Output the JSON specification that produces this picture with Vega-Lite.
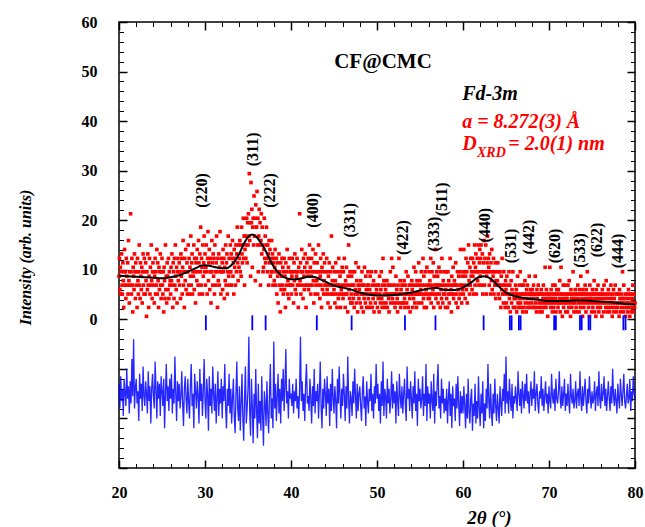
{
"$schema":"https://vega.github.io/schema/vega-lite/v6.json",
"width":516,"height":446,
"autosize":{"type":"none"},
"padding":{"left":119,"top":22,"right":10,"bottom":59},
"background":"white",
"config":{
"view":{"stroke":"black","strokeWidth":1.5},
"axis":{"grid":false,"domain":false,"tickColor":"black","labelFont":"Liberation Serif","labelFontWeight":"bold","labelFontSize":16,"labelColor":"black","titleFont":"Liberation Serif","titleFontWeight":"bold","titleFontStyle":"italic","titleColor":"black","labelFlush":false,"labelOverlap":false}
},
"resolve":{"axis":{"x":"independent","y":"independent"}},
"datasets":{
"obs":[
{"x":20,"y":8.7},{"x":20.05,"y":12.3},{"x":20.1,"y":6},{"x":20.15,"y":10.5},{"x":20.2,"y":5.1},{"x":20.25,"y":9.6},{"x":20.3,"y":13.2},{"x":20.35,"y":6.9},{"x":20.4,"y":5.1},{"x":20.45,"y":11.4},{"x":20.5,"y":7.8},{"x":20.55,"y":2.4},{"x":20.6,"y":9.6},{"x":20.65,"y":14.1},{"x":20.7,"y":6.9},{"x":20.75,"y":9.6},{"x":20.8,"y":4.2},{"x":20.85,"y":12.3},{"x":20.9,"y":8.7},{"x":20.95,"y":6.9},
{"x":21,"y":11.4},{"x":21.05,"y":5.1},{"x":21.1,"y":15.9},{"x":21.15,"y":7.8},{"x":21.2,"y":3.3},{"x":21.25,"y":9.6},{"x":21.3,"y":6.9},{"x":21.35,"y":21.3},{"x":21.4,"y":9.6},{"x":21.45,"y":5.1},{"x":21.5,"y":12.3},{"x":21.55,"y":6.9},{"x":21.6,"y":1.5},{"x":21.65,"y":10.5},{"x":21.7,"y":8.7},{"x":21.75,"y":6},{"x":21.8,"y":13.2},{"x":21.85,"y":9.6},{"x":21.9,"y":4.2},{"x":21.95,"y":11.4},
{"x":22,"y":6.9},{"x":22.05,"y":9.6},{"x":22.1,"y":2.4},{"x":22.15,"y":12.3},{"x":22.2,"y":7.8},{"x":22.25,"y":5.1},{"x":22.3,"y":9.6},{"x":22.35,"y":15},{"x":22.4,"y":6.9},{"x":22.45,"y":4.2},{"x":22.5,"y":11.4},{"x":22.55,"y":8.7},{"x":22.6,"y":6},{"x":22.65,"y":10.5},{"x":22.7,"y":3.3},{"x":22.75,"y":9.6},{"x":22.8,"y":13.2},{"x":22.85,"y":6.9},{"x":22.9,"y":5.1},{"x":22.95,"y":12.3},
{"x":23,"y":9.6},{"x":23.05,"y":5.1},{"x":23.1,"y":11.4},{"x":23.15,"y":7.8},{"x":23.2,"y":0.6},{"x":23.25,"y":9.6},{"x":23.3,"y":6},{"x":23.35,"y":13.2},{"x":23.4,"y":6.9},{"x":23.45,"y":2.4},{"x":23.5,"y":8.7},{"x":23.55,"y":12.3},{"x":23.6,"y":5.1},{"x":23.65,"y":10.5},{"x":23.7,"y":6.9},{"x":23.75,"y":15},{"x":23.8,"y":7.8},{"x":23.85,"y":4.2},{"x":23.9,"y":9.6},{"x":23.95,"y":11.4},
{"x":24,"y":6.9},{"x":24.05,"y":9.6},{"x":24.1,"y":3.3},{"x":24.15,"y":8.7},{"x":24.2,"y":12.3},{"x":24.25,"y":5.1},{"x":24.3,"y":9.6},{"x":24.35,"y":6.9},{"x":24.4,"y":14.1},{"x":24.45,"y":5.1},{"x":24.5,"y":11.4},{"x":24.55,"y":7.8},{"x":24.6,"y":2.4},{"x":24.65,"y":10.5},{"x":24.7,"y":6},{"x":24.75,"y":9.6},{"x":24.8,"y":13.2},{"x":24.85,"y":6.9},{"x":24.9,"y":4.2},{"x":24.95,"y":9.6},
{"x":25,"y":12.3},{"x":25.05,"y":6.9},{"x":25.1,"y":5.1},{"x":25.15,"y":9.6},{"x":25.2,"y":1.5},{"x":25.25,"y":10.5},{"x":25.3,"y":7.8},{"x":25.35,"y":4.2},{"x":25.4,"y":15},{"x":25.45,"y":6},{"x":25.5,"y":8.7},{"x":25.55,"y":3.3},{"x":25.6,"y":11.4},{"x":25.65,"y":8.7},{"x":25.7,"y":6},{"x":25.75,"y":12.3},{"x":25.8,"y":4.2},{"x":25.85,"y":9.6},{"x":25.9,"y":6.9},{"x":25.95,"y":7.8},
{"x":26,"y":5.1},{"x":26.05,"y":10.5},{"x":26.1,"y":7.8},{"x":26.15,"y":13.2},{"x":26.2,"y":6.9},{"x":26.25,"y":2.4},{"x":26.3,"y":11.4},{"x":26.35,"y":9.6},{"x":26.4,"y":4.2},{"x":26.45,"y":12.3},{"x":26.5,"y":6.9},{"x":26.55,"y":15},{"x":26.6,"y":8.7},{"x":26.65,"y":6},{"x":26.7,"y":10.5},{"x":26.75,"y":3.3},{"x":26.8,"y":9.6},{"x":26.85,"y":12.3},{"x":26.9,"y":7.8},{"x":26.95,"y":9.6},
{"x":27,"y":11.4},{"x":27.05,"y":6.9},{"x":27.1,"y":9.6},{"x":27.15,"y":4.2},{"x":27.2,"y":13.2},{"x":27.25,"y":8.7},{"x":27.3,"y":12.3},{"x":27.35,"y":5.1},{"x":27.4,"y":10.5},{"x":27.45,"y":15.9},{"x":27.5,"y":6.9},{"x":27.55,"y":9.6},{"x":27.6,"y":2.4},{"x":27.65,"y":12.3},{"x":27.7,"y":7.8},{"x":27.75,"y":14.1},{"x":27.8,"y":6},{"x":27.85,"y":9.6},{"x":27.9,"y":11.4},{"x":27.95,"y":5.1},
{"x":28,"y":9.6},{"x":28.05,"y":15},{"x":28.1,"y":6.9},{"x":28.15,"y":12.3},{"x":28.2,"y":5.1},{"x":28.25,"y":10.5},{"x":28.3,"y":8.7},{"x":28.35,"y":16.8},{"x":28.4,"y":6.9},{"x":28.45,"y":11.4},{"x":28.5,"y":13.2},{"x":28.55,"y":5.1},{"x":28.6,"y":9.6},{"x":28.65,"y":8.7},{"x":28.7,"y":15},{"x":28.75,"y":6},{"x":28.8,"y":12.3},{"x":28.85,"y":9.6},{"x":28.9,"y":3.3},{"x":28.95,"y":11.4},
{"x":29,"y":12.3},{"x":29.05,"y":7.8},{"x":29.1,"y":14.1},{"x":29.15,"y":9.6},{"x":29.2,"y":6.9},{"x":29.25,"y":15.9},{"x":29.3,"y":11.4},{"x":29.35,"y":5.1},{"x":29.4,"y":13.2},{"x":29.45,"y":9.6},{"x":29.5,"y":18.6},{"x":29.55,"y":6.9},{"x":29.6,"y":12.3},{"x":29.65,"y":10.5},{"x":29.7,"y":5.1},{"x":29.75,"y":15},{"x":29.8,"y":8.7},{"x":29.85,"y":11.4},{"x":29.9,"y":16.8},{"x":29.95,"y":9.6},
{"x":30,"y":13.2},{"x":30.05,"y":6.9},{"x":30.1,"y":10.5},{"x":30.15,"y":15},{"x":30.2,"y":9.6},{"x":30.25,"y":5.1},{"x":30.3,"y":12.3},{"x":30.35,"y":17.7},{"x":30.4,"y":7.8},{"x":30.45,"y":11.4},{"x":30.5,"y":14.1},{"x":30.55,"y":6},{"x":30.6,"y":9.6},{"x":30.65,"y":12.3},{"x":30.7,"y":3.3},{"x":30.75,"y":9.6},{"x":30.8,"y":15.9},{"x":30.85,"y":11.4},{"x":30.9,"y":6.9},{"x":30.95,"y":13.2},
{"x":31,"y":8.7},{"x":31.05,"y":12.3},{"x":31.1,"y":5.1},{"x":31.15,"y":15},{"x":31.2,"y":9.6},{"x":31.25,"y":6.9},{"x":31.3,"y":11.4},{"x":31.35,"y":16.8},{"x":31.4,"y":9.6},{"x":31.45,"y":2.4},{"x":31.5,"y":12.3},{"x":31.55,"y":7.8},{"x":31.6,"y":13.2},{"x":31.65,"y":6.9},{"x":31.7,"y":10.5},{"x":31.75,"y":17.7},{"x":31.8,"y":9.6},{"x":31.85,"y":5.1},{"x":31.9,"y":12.3},{"x":31.95,"y":9.6},
{"x":32,"y":11.4},{"x":32.05,"y":6},{"x":32.1,"y":14.1},{"x":32.15,"y":9.6},{"x":32.2,"y":12.3},{"x":32.25,"y":4.2},{"x":32.3,"y":10.5},{"x":32.35,"y":7.8},{"x":32.4,"y":15},{"x":32.45,"y":6.9},{"x":32.5,"y":11.4},{"x":32.55,"y":13.2},{"x":32.6,"y":5.1},{"x":32.65,"y":9.6},{"x":32.7,"y":16.8},{"x":32.75,"y":8.7},{"x":32.8,"y":12.3},{"x":32.85,"y":6.9},{"x":32.9,"y":9.6},{"x":32.95,"y":15},
{"x":33,"y":9.6},{"x":33.05,"y":13.2},{"x":33.1,"y":6.9},{"x":33.15,"y":12.3},{"x":33.2,"y":15.9},{"x":33.25,"y":8.7},{"x":33.3,"y":11.4},{"x":33.35,"y":5.1},{"x":33.4,"y":14.1},{"x":33.45,"y":10.5},{"x":33.5,"y":12.3},{"x":33.55,"y":6.9},{"x":33.6,"y":15},{"x":33.65,"y":9.6},{"x":33.7,"y":13.2},{"x":33.75,"y":18.6},{"x":33.8,"y":11.4},{"x":33.85,"y":7.8},{"x":33.9,"y":15},{"x":33.95,"y":10.5},
{"x":34,"y":12.3},{"x":34.05,"y":15.9},{"x":34.1,"y":9.6},{"x":34.15,"y":15},{"x":34.2,"y":8.7},{"x":34.25,"y":18.6},{"x":34.3,"y":13.2},{"x":34.35,"y":11.4},{"x":34.4,"y":15},{"x":34.45,"y":20.4},{"x":34.5,"y":12.3},{"x":34.55,"y":16.8},{"x":34.6,"y":6.9},{"x":34.65,"y":14.1},{"x":34.7,"y":16.8},{"x":34.75,"y":12.3},{"x":34.8,"y":15},{"x":34.85,"y":20.4},{"x":34.9,"y":11.4},{"x":34.95,"y":19.5},
{"x":35,"y":15},{"x":35.05,"y":21.3},{"x":35.1,"y":16.8},{"x":35.15,"y":29.4},{"x":35.2,"y":15.9},{"x":35.25,"y":19.5},{"x":35.3,"y":8.7},{"x":35.35,"y":27.6},{"x":35.4,"y":19.5},{"x":35.45,"y":22.2},{"x":35.5,"y":10.5},{"x":35.55,"y":18.6},{"x":35.6,"y":20.4},{"x":35.65,"y":15},{"x":35.7,"y":24.9},{"x":35.75,"y":16.8},{"x":35.8,"y":20.4},{"x":35.85,"y":7.8},{"x":35.9,"y":23.1},{"x":35.95,"y":18.6},
{"x":36,"y":18.6},{"x":36.05,"y":25.8},{"x":36.1,"y":15},{"x":36.15,"y":20.4},{"x":36.2,"y":9.6},{"x":36.25,"y":16.8},{"x":36.3,"y":22.2},{"x":36.35,"y":15},{"x":36.4,"y":19.5},{"x":36.45,"y":6.9},{"x":36.5,"y":15.9},{"x":36.55,"y":21.3},{"x":36.6,"y":13.2},{"x":36.65,"y":18.6},{"x":36.7,"y":15},{"x":36.75,"y":9.6},{"x":36.8,"y":10.5},{"x":36.85,"y":14.1},{"x":36.9,"y":20.4},{"x":36.95,"y":12.3},
{"x":37,"y":16.8},{"x":37.05,"y":11.4},{"x":37.1,"y":15},{"x":37.15,"y":18.6},{"x":37.2,"y":12.3},{"x":37.25,"y":9.6},{"x":37.3,"y":15},{"x":37.35,"y":13.2},{"x":37.4,"y":6.9},{"x":37.45,"y":15.9},{"x":37.5,"y":11.4},{"x":37.55,"y":14.1},{"x":37.6,"y":8.7},{"x":37.65,"y":12.3},{"x":37.7,"y":9.6},{"x":37.75,"y":15.9},{"x":37.8,"y":9.6},{"x":37.85,"y":13.2},{"x":37.9,"y":6.9},{"x":37.95,"y":11.4},
{"x":38,"y":12.3},{"x":38.05,"y":7.8},{"x":38.1,"y":10.5},{"x":38.15,"y":14.1},{"x":38.2,"y":6.9},{"x":38.25,"y":9.6},{"x":38.3,"y":12.3},{"x":38.35,"y":5.1},{"x":38.4,"y":11.4},{"x":38.45,"y":8.7},{"x":38.5,"y":3.3},{"x":38.55,"y":9.6},{"x":38.6,"y":13.2},{"x":38.65,"y":6.9},{"x":38.7,"y":9.6},{"x":38.75,"y":1.5},{"x":38.8,"y":11.4},{"x":38.85,"y":6},{"x":38.9,"y":8.7},{"x":38.95,"y":12.3},
{"x":39,"y":6.9},{"x":39.05,"y":10.5},{"x":39.1,"y":5.1},{"x":39.15,"y":9.6},{"x":39.2,"y":12.3},{"x":39.25,"y":6},{"x":39.3,"y":8.7},{"x":39.35,"y":2.4},{"x":39.4,"y":11.4},{"x":39.45,"y":6.9},{"x":39.5,"y":9.6},{"x":39.55,"y":14.1},{"x":39.6,"y":5.1},{"x":39.65,"y":7.8},{"x":39.7,"y":10.5},{"x":39.75,"y":4.2},{"x":39.8,"y":12.3},{"x":39.85,"y":6.9},{"x":39.9,"y":9.6},{"x":39.95,"y":6.9},
{"x":40,"y":9.6},{"x":40.05,"y":5.1},{"x":40.1,"y":8.7},{"x":40.15,"y":12.3},{"x":40.2,"y":6.9},{"x":40.25,"y":9.6},{"x":40.3,"y":3.3},{"x":40.35,"y":11.4},{"x":40.4,"y":7.8},{"x":40.45,"y":13.2},{"x":40.5,"y":6},{"x":40.55,"y":9.6},{"x":40.6,"y":5.1},{"x":40.65,"y":8.7},{"x":40.7,"y":12.3},{"x":40.75,"y":6.9},{"x":40.8,"y":9.6},{"x":40.85,"y":2.4},{"x":40.9,"y":10.5},{"x":40.95,"y":6.9},
{"x":41,"y":21.3},{"x":41.05,"y":7.8},{"x":41.1,"y":11.4},{"x":41.15,"y":5.1},{"x":41.2,"y":9.6},{"x":41.25,"y":14.1},{"x":41.3,"y":6.9},{"x":41.35,"y":9.6},{"x":41.4,"y":4.2},{"x":41.45,"y":12.3},{"x":41.5,"y":8.7},{"x":41.55,"y":6},{"x":41.6,"y":10.5},{"x":41.65,"y":13.2},{"x":41.7,"y":6.9},{"x":41.75,"y":2.4},{"x":41.8,"y":9.6},{"x":41.85,"y":11.4},{"x":41.9,"y":6.9},{"x":41.95,"y":8.7},
{"x":42,"y":12.3},{"x":42.05,"y":6},{"x":42.1,"y":9.6},{"x":42.15,"y":15},{"x":42.2,"y":6.9},{"x":42.25,"y":10.5},{"x":42.3,"y":5.1},{"x":42.35,"y":8.7},{"x":42.4,"y":12.3},{"x":42.45,"y":6.9},{"x":42.5,"y":9.6},{"x":42.55,"y":14.1},{"x":42.6,"y":7.8},{"x":42.65,"y":3.3},{"x":42.7,"y":11.4},{"x":42.75,"y":9.6},{"x":42.8,"y":5.1},{"x":42.85,"y":13.2},{"x":42.9,"y":6.9},{"x":42.95,"y":9.6},
{"x":43,"y":7.8},{"x":43.05,"y":11.4},{"x":43.1,"y":5.1},{"x":43.15,"y":9.6},{"x":43.2,"y":15},{"x":43.25,"y":6.9},{"x":43.3,"y":9.6},{"x":43.35,"y":4.2},{"x":43.4,"y":8.7},{"x":43.45,"y":12.3},{"x":43.5,"y":6.9},{"x":43.55,"y":2.4},{"x":43.6,"y":10.5},{"x":43.65,"y":6},{"x":43.7,"y":9.6},{"x":43.75,"y":13.2},{"x":43.8,"y":5.1},{"x":43.85,"y":7.8},{"x":43.9,"y":11.4},{"x":43.95,"y":6.9},
{"x":44,"y":9.6},{"x":44.05,"y":5.1},{"x":44.1,"y":6.9},{"x":44.15,"y":12.3},{"x":44.2,"y":6},{"x":44.25,"y":9.6},{"x":44.3,"y":3.3},{"x":44.35,"y":8.7},{"x":44.4,"y":5.1},{"x":44.45,"y":11.4},{"x":44.5,"y":6.9},{"x":44.55,"y":2.4},{"x":44.6,"y":9.6},{"x":44.65,"y":6.9},{"x":44.7,"y":16.8},{"x":44.75,"y":5.1},{"x":44.8,"y":7.8},{"x":44.85,"y":10.5},{"x":44.9,"y":5.1},{"x":44.95,"y":6.9},
{"x":45,"y":6},{"x":45.05,"y":9.6},{"x":45.1,"y":3.3},{"x":45.15,"y":7.8},{"x":45.2,"y":11.4},{"x":45.25,"y":5.1},{"x":45.3,"y":6.9},{"x":45.35,"y":2.4},{"x":45.4,"y":9.6},{"x":45.45,"y":6.9},{"x":45.5,"y":4.2},{"x":45.55,"y":12.3},{"x":45.6,"y":6.9},{"x":45.65,"y":5.1},{"x":45.7,"y":8.7},{"x":45.75,"y":2.4},{"x":45.8,"y":9.6},{"x":45.85,"y":6},{"x":45.9,"y":5.1},{"x":45.95,"y":10.5},
{"x":46,"y":6.9},{"x":46.05,"y":4.2},{"x":46.1,"y":9.6},{"x":46.15,"y":5.1},{"x":46.2,"y":12.3},{"x":46.25,"y":6.9},{"x":46.3,"y":2.4},{"x":46.35,"y":7.8},{"x":46.4,"y":5.1},{"x":46.45,"y":10.5},{"x":46.5,"y":5.1},{"x":46.55,"y":6.9},{"x":46.6,"y":1.5},{"x":46.65,"y":8.7},{"x":46.7,"y":15},{"x":46.75,"y":6},{"x":46.8,"y":4.2},{"x":46.85,"y":9.6},{"x":46.9,"y":6.9},{"x":46.95,"y":3.3},
{"x":47,"y":5.1},{"x":47.05,"y":8.7},{"x":47.1,"y":3.3},{"x":47.15,"y":6.9},{"x":47.2,"y":9.6},{"x":47.25,"y":4.2},{"x":47.3,"y":6.9},{"x":47.35,"y":2.4},{"x":47.4,"y":9.6},{"x":47.45,"y":5.1},{"x":47.5,"y":6},{"x":47.55,"y":11.4},{"x":47.6,"y":3.3},{"x":47.65,"y":7.8},{"x":47.7,"y":5.1},{"x":47.75,"y":1.5},{"x":47.8,"y":6.9},{"x":47.85,"y":10.5},{"x":47.9,"y":4.2},{"x":47.95,"y":6},
{"x":48,"y":6.9},{"x":48.05,"y":3.3},{"x":48.1,"y":7.8},{"x":48.15,"y":5.1},{"x":48.2,"y":2.4},{"x":48.25,"y":9.6},{"x":48.3,"y":5.1},{"x":48.35,"y":6.9},{"x":48.4,"y":1.5},{"x":48.45,"y":6.9},{"x":48.5,"y":4.2},{"x":48.55,"y":10.5},{"x":48.6,"y":5.1},{"x":48.65,"y":3.3},{"x":48.7,"y":8.7},{"x":48.75,"y":6},{"x":48.8,"y":2.4},{"x":48.85,"y":6.9},{"x":48.9,"y":5.1},{"x":48.95,"y":9.6},
{"x":49,"y":4.2},{"x":49.05,"y":6.9},{"x":49.1,"y":2.4},{"x":49.15,"y":6},{"x":49.2,"y":8.7},{"x":49.25,"y":3.3},{"x":49.3,"y":5.1},{"x":49.35,"y":9.6},{"x":49.4,"y":5.1},{"x":49.45,"y":2.4},{"x":49.5,"y":6.9},{"x":49.55,"y":4.2},{"x":49.6,"y":7.8},{"x":49.65,"y":1.5},{"x":49.7,"y":5.1},{"x":49.75,"y":6.9},{"x":49.8,"y":3.3},{"x":49.85,"y":9.6},{"x":49.9,"y":5.1},{"x":49.95,"y":6},
{"x":50,"y":5.1},{"x":50.05,"y":2.4},{"x":50.1,"y":6.9},{"x":50.15,"y":4.2},{"x":50.2,"y":6.9},{"x":50.25,"y":1.5},{"x":50.3,"y":8.7},{"x":50.35,"y":5.1},{"x":50.4,"y":3.3},{"x":50.45,"y":6},{"x":50.5,"y":9.6},{"x":50.55,"y":4.2},{"x":50.6,"y":2.4},{"x":50.65,"y":6.9},{"x":50.7,"y":12.3},{"x":50.75,"y":3.3},{"x":50.8,"y":7.8},{"x":50.85,"y":5.1},{"x":50.9,"y":6.9},{"x":50.95,"y":2.4},
{"x":51,"y":6},{"x":51.05,"y":3.3},{"x":51.1,"y":5.1},{"x":51.15,"y":7.8},{"x":51.2,"y":2.4},{"x":51.25,"y":5.1},{"x":51.3,"y":6.9},{"x":51.35,"y":4.2},{"x":51.4,"y":1.5},{"x":51.45,"y":6.9},{"x":51.5,"y":5.1},{"x":51.55,"y":9.6},{"x":51.6,"y":3.3},{"x":51.65,"y":5.1},{"x":51.7,"y":12.3},{"x":51.75,"y":6.9},{"x":51.8,"y":4.2},{"x":51.85,"y":10.5},{"x":51.9,"y":5.1},{"x":51.95,"y":3.3},
{"x":52,"y":5.1},{"x":52.05,"y":6.9},{"x":52.1,"y":2.4},{"x":52.15,"y":5.1},{"x":52.2,"y":8.7},{"x":52.25,"y":3.3},{"x":52.3,"y":6},{"x":52.35,"y":4.2},{"x":52.4,"y":1.5},{"x":52.45,"y":6.9},{"x":52.5,"y":5.1},{"x":52.55,"y":12.3},{"x":52.6,"y":3.3},{"x":52.65,"y":5.1},{"x":52.7,"y":7.8},{"x":52.75,"y":2.4},{"x":52.8,"y":6},{"x":52.85,"y":5.1},{"x":52.9,"y":6.9},{"x":52.95,"y":3.3},
{"x":53,"y":6.9},{"x":53.05,"y":3.3},{"x":53.1,"y":5.1},{"x":53.15,"y":7.8},{"x":53.2,"y":4.2},{"x":53.25,"y":2.4},{"x":53.3,"y":6.9},{"x":53.35,"y":5.1},{"x":53.4,"y":9.6},{"x":53.45,"y":3.3},{"x":53.5,"y":6},{"x":53.55,"y":5.1},{"x":53.6,"y":8.7},{"x":53.65,"y":2.4},{"x":53.7,"y":5.1},{"x":53.75,"y":6.9},{"x":53.8,"y":4.2},{"x":53.85,"y":1.5},{"x":53.9,"y":6.9},{"x":53.95,"y":5.1},
{"x":54,"y":5.1},{"x":54.05,"y":7.8},{"x":54.1,"y":6},{"x":54.15,"y":2.4},{"x":54.2,"y":6.9},{"x":54.25,"y":4.2},{"x":54.3,"y":10.5},{"x":54.35,"y":5.1},{"x":54.4,"y":3.3},{"x":54.45,"y":6.9},{"x":54.5,"y":9.6},{"x":54.55,"y":5.1},{"x":54.6,"y":2.4},{"x":54.65,"y":7.8},{"x":54.7,"y":5.1},{"x":54.75,"y":6.9},{"x":54.8,"y":3.3},{"x":54.85,"y":11.4},{"x":54.9,"y":5.1},{"x":54.95,"y":6.9},
{"x":55,"y":7.8},{"x":55.05,"y":5.1},{"x":55.1,"y":6},{"x":55.15,"y":9.6},{"x":55.2,"y":3.3},{"x":55.25,"y":6.9},{"x":55.3,"y":5.1},{"x":55.35,"y":12.3},{"x":55.4,"y":4.2},{"x":55.45,"y":8.7},{"x":55.5,"y":2.4},{"x":55.55,"y":6.9},{"x":55.6,"y":9.6},{"x":55.65,"y":5.1},{"x":55.7,"y":6},{"x":55.75,"y":2.4},{"x":55.8,"y":10.5},{"x":55.85,"y":5.1},{"x":55.9,"y":6.9},{"x":55.95,"y":4.2},
{"x":56,"y":6.9},{"x":56.05,"y":9.6},{"x":56.1,"y":4.2},{"x":56.15,"y":7.8},{"x":56.2,"y":5.1},{"x":56.25,"y":12.3},{"x":56.3,"y":3.3},{"x":56.35,"y":6.9},{"x":56.4,"y":9.6},{"x":56.45,"y":5.1},{"x":56.5,"y":6},{"x":56.55,"y":11.4},{"x":56.6,"y":2.4},{"x":56.65,"y":8.7},{"x":56.7,"y":5.1},{"x":56.75,"y":6.9},{"x":56.8,"y":14.1},{"x":56.85,"y":4.2},{"x":56.9,"y":6.9},{"x":56.95,"y":9.6},
{"x":57,"y":5.1},{"x":57.05,"y":8.7},{"x":57.1,"y":3.3},{"x":57.15,"y":6.9},{"x":57.2,"y":10.5},{"x":57.25,"y":5.1},{"x":57.3,"y":6.9},{"x":57.35,"y":2.4},{"x":57.4,"y":9.6},{"x":57.45,"y":6},{"x":57.5,"y":4.2},{"x":57.55,"y":12.3},{"x":57.6,"y":6.9},{"x":57.65,"y":3.3},{"x":57.7,"y":7.8},{"x":57.75,"y":5.1},{"x":57.8,"y":9.6},{"x":57.85,"y":5.1},{"x":57.9,"y":6.9},{"x":57.95,"y":2.4},
{"x":58,"y":6},{"x":58.05,"y":9.6},{"x":58.1,"y":4.2},{"x":58.15,"y":6.9},{"x":58.2,"y":2.4},{"x":58.25,"y":9.6},{"x":58.3,"y":5.1},{"x":58.35,"y":7.8},{"x":58.4,"y":3.3},{"x":58.45,"y":6.9},{"x":58.5,"y":12.3},{"x":58.55,"y":5.1},{"x":58.6,"y":6},{"x":58.65,"y":1.5},{"x":58.7,"y":8.7},{"x":58.75,"y":5.1},{"x":58.8,"y":6.9},{"x":58.85,"y":10.5},{"x":58.9,"y":4.2},{"x":58.95,"y":6.9},
{"x":59,"y":7.8},{"x":59.05,"y":5.1},{"x":59.1,"y":6.9},{"x":59.15,"y":11.4},{"x":59.2,"y":3.3},{"x":59.25,"y":6.9},{"x":59.3,"y":5.1},{"x":59.35,"y":9.6},{"x":59.4,"y":2.4},{"x":59.45,"y":6},{"x":59.5,"y":8.7},{"x":59.55,"y":4.2},{"x":59.6,"y":9.6},{"x":59.65,"y":6.9},{"x":59.7,"y":14.1},{"x":59.75,"y":5.1},{"x":59.8,"y":6.9},{"x":59.85,"y":3.3},{"x":59.9,"y":8.7},{"x":59.95,"y":6},
{"x":60,"y":9.6},{"x":60.05,"y":5.1},{"x":60.1,"y":14.1},{"x":60.15,"y":6.9},{"x":60.2,"y":9.6},{"x":60.25,"y":4.2},{"x":60.3,"y":8.7},{"x":60.35,"y":12.3},{"x":60.4,"y":6},{"x":60.45,"y":9.6},{"x":60.5,"y":3.3},{"x":60.55,"y":11.4},{"x":60.6,"y":6.9},{"x":60.65,"y":15},{"x":60.7,"y":7.8},{"x":60.75,"y":5.1},{"x":60.8,"y":10.5},{"x":60.85,"y":6.9},{"x":60.9,"y":12.3},{"x":60.95,"y":8.7},
{"x":61,"y":9.6},{"x":61.05,"y":6},{"x":61.1,"y":12.3},{"x":61.15,"y":8.7},{"x":61.2,"y":5.1},{"x":61.25,"y":11.4},{"x":61.3,"y":9.6},{"x":61.35,"y":15},{"x":61.4,"y":6.9},{"x":61.45,"y":10.5},{"x":61.5,"y":13.2},{"x":61.55,"y":5.1},{"x":61.6,"y":9.6},{"x":61.65,"y":12.3},{"x":61.7,"y":7.8},{"x":61.75,"y":15},{"x":61.8,"y":9.6},{"x":61.85,"y":6.9},{"x":61.9,"y":11.4},{"x":61.95,"y":14.1},
{"x":62,"y":8.7},{"x":62.05,"y":12.3},{"x":62.1,"y":15},{"x":62.15,"y":6.9},{"x":62.2,"y":9.6},{"x":62.25,"y":13.2},{"x":62.3,"y":5.1},{"x":62.35,"y":11.4},{"x":62.4,"y":9.6},{"x":62.45,"y":15.9},{"x":62.5,"y":6.9},{"x":62.55,"y":12.3},{"x":62.6,"y":9.6},{"x":62.65,"y":15},{"x":62.7,"y":5.1},{"x":62.75,"y":8.7},{"x":62.8,"y":11.4},{"x":62.85,"y":16.8},{"x":62.9,"y":9.6},{"x":62.95,"y":12.3},
{"x":63,"y":10.5},{"x":63.05,"y":6.9},{"x":63.1,"y":13.2},{"x":63.15,"y":9.6},{"x":63.2,"y":5.1},{"x":63.25,"y":11.4},{"x":63.3,"y":7.8},{"x":63.35,"y":14.1},{"x":63.4,"y":6},{"x":63.45,"y":9.6},{"x":63.5,"y":8.7},{"x":63.55,"y":12.3},{"x":63.6,"y":5.1},{"x":63.65,"y":9.6},{"x":63.7,"y":6.9},{"x":63.75,"y":11.4},{"x":63.8,"y":4.2},{"x":63.85,"y":7.8},{"x":63.9,"y":9.6},{"x":63.95,"y":6.9},
{"x":64,"y":7.8},{"x":64.05,"y":11.4},{"x":64.1,"y":5.1},{"x":64.15,"y":6.9},{"x":64.2,"y":9.6},{"x":64.25,"y":4.2},{"x":64.3,"y":9.6},{"x":64.35,"y":6.9},{"x":64.4,"y":2.4},{"x":64.45,"y":8.7},{"x":64.5,"y":6},{"x":64.55,"y":12.3},{"x":64.6,"y":5.1},{"x":64.65,"y":6.9},{"x":64.7,"y":3.3},{"x":64.75,"y":9.6},{"x":64.8,"y":5.1},{"x":64.85,"y":6.9},{"x":64.9,"y":2.4},{"x":64.95,"y":7.8},
{"x":65,"y":6},{"x":65.05,"y":3.3},{"x":65.1,"y":8.7},{"x":65.15,"y":5.1},{"x":65.2,"y":6.9},{"x":65.25,"y":2.4},{"x":65.3,"y":5.1},{"x":65.35,"y":9.6},{"x":65.4,"y":4.2},{"x":65.45,"y":6.9},{"x":65.5,"y":1.5},{"x":65.55,"y":5.1},{"x":65.6,"y":7.8},{"x":65.65,"y":3.3},{"x":65.7,"y":6},{"x":65.75,"y":5.1},{"x":65.8,"y":9.6},{"x":65.85,"y":2.4},{"x":65.9,"y":5.1},{"x":65.95,"y":4.2},
{"x":66,"y":5.1},{"x":66.05,"y":2.4},{"x":66.1,"y":6.9},{"x":66.15,"y":4.2},{"x":66.2,"y":6},{"x":66.25,"y":1.5},{"x":66.3,"y":5.1},{"x":66.35,"y":8.7},{"x":66.4,"y":3.3},{"x":66.45,"y":5.1},{"x":66.5,"y":2.4},{"x":66.55,"y":6.9},{"x":66.6,"y":4.2},{"x":66.65,"y":9.6},{"x":66.7,"y":3.3},{"x":66.75,"y":5.1},{"x":66.8,"y":2.4},{"x":66.85,"y":6.9},{"x":66.9,"y":5.1},{"x":66.95,"y":1.5},
{"x":67,"y":4.2},{"x":67.05,"y":6.9},{"x":67.1,"y":2.4},{"x":67.15,"y":5.1},{"x":67.2,"y":7.8},{"x":67.25,"y":3.3},{"x":67.3,"y":5.1},{"x":67.35,"y":1.5},{"x":67.4,"y":6},{"x":67.45,"y":4.2},{"x":67.5,"y":6.9},{"x":67.55,"y":2.4},{"x":67.6,"y":5.1},{"x":67.65,"y":3.3},{"x":67.7,"y":8.7},{"x":67.75,"y":5.1},{"x":67.8,"y":2.4},{"x":67.85,"y":6},{"x":67.9,"y":4.2},{"x":67.95,"y":5.1},
{"x":68,"y":3.3},{"x":68.05,"y":6},{"x":68.1,"y":5.1},{"x":68.15,"y":2.4},{"x":68.2,"y":6.9},{"x":68.25,"y":4.2},{"x":68.3,"y":2.4},{"x":68.35,"y":5.1},{"x":68.4,"y":8.7},{"x":68.45,"y":3.3},{"x":68.5,"y":5.1},{"x":68.55,"y":1.5},{"x":68.6,"y":6},{"x":68.65,"y":4.2},{"x":68.7,"y":2.4},{"x":68.75,"y":6.9},{"x":68.8,"y":5.1},{"x":68.85,"y":3.3},{"x":68.9,"y":5.1},{"x":68.95,"y":1.5},
{"x":69,"y":5.1},{"x":69.05,"y":2.4},{"x":69.1,"y":6},{"x":69.15,"y":3.3},{"x":69.2,"y":1.5},{"x":69.25,"y":5.1},{"x":69.3,"y":4.2},{"x":69.35,"y":6.9},{"x":69.4,"y":2.4},{"x":69.45,"y":5.1},{"x":69.5,"y":3.3},{"x":69.55,"y":10.5},{"x":69.6,"y":4.2},{"x":69.65,"y":2.4},{"x":69.7,"y":6},{"x":69.75,"y":3.3},{"x":69.8,"y":5.1},{"x":69.85,"y":0.6},{"x":69.9,"y":5.1},{"x":69.95,"y":4.2},
{"x":70,"y":3.3},{"x":70.05,"y":5.1},{"x":70.1,"y":10.5},{"x":70.15,"y":4.2},{"x":70.2,"y":2.4},{"x":70.25,"y":6},{"x":70.3,"y":3.3},{"x":70.35,"y":5.1},{"x":70.4,"y":1.5},{"x":70.45,"y":6.9},{"x":70.5,"y":4.2},{"x":70.55,"y":2.4},{"x":70.6,"y":5.1},{"x":70.65,"y":3.3},{"x":70.7,"y":6.9},{"x":70.75,"y":4.2},{"x":70.8,"y":1.5},{"x":70.85,"y":5.1},{"x":70.9,"y":6},{"x":70.95,"y":3.3},
{"x":71,"y":5.1},{"x":71.05,"y":2.4},{"x":71.1,"y":6},{"x":71.15,"y":3.3},{"x":71.2,"y":4.2},{"x":71.25,"y":7.8},{"x":71.3,"y":1.5},{"x":71.35,"y":5.1},{"x":71.4,"y":10.5},{"x":71.45,"y":3.3},{"x":71.5,"y":5.1},{"x":71.55,"y":0.6},{"x":71.6,"y":4.2},{"x":71.65,"y":6.9},{"x":71.7,"y":2.4},{"x":71.75,"y":5.1},{"x":71.8,"y":3.3},{"x":71.85,"y":6.9},{"x":71.9,"y":4.2},{"x":71.95,"y":1.5},
{"x":72,"y":5.1},{"x":72.05,"y":3.3},{"x":72.1,"y":4.2},{"x":72.15,"y":1.5},{"x":72.2,"y":6.9},{"x":72.25,"y":5.1},{"x":72.3,"y":2.4},{"x":72.35,"y":7.8},{"x":72.4,"y":3.3},{"x":72.45,"y":5.1},{"x":72.5,"y":0.6},{"x":72.55,"y":6},{"x":72.6,"y":4.2},{"x":72.65,"y":2.4},{"x":72.7,"y":5.1},{"x":72.75,"y":3.3},{"x":72.8,"y":9.6},{"x":72.85,"y":4.2},{"x":72.9,"y":1.5},{"x":72.95,"y":5.1},
{"x":73,"y":3.3},{"x":73.05,"y":6},{"x":73.1,"y":4.2},{"x":73.15,"y":2.4},{"x":73.2,"y":5.1},{"x":73.25,"y":1.5},{"x":73.3,"y":5.1},{"x":73.35,"y":6.9},{"x":73.4,"y":3.3},{"x":73.45,"y":4.2},{"x":73.5,"y":1.5},{"x":73.55,"y":6},{"x":73.6,"y":5.1},{"x":73.65,"y":2.4},{"x":73.7,"y":8.7},{"x":73.75,"y":3.3},{"x":73.8,"y":5.1},{"x":73.85,"y":4.2},{"x":73.9,"y":0.6},{"x":73.95,"y":6},
{"x":74,"y":5.1},{"x":74.05,"y":2.4},{"x":74.1,"y":5.1},{"x":74.15,"y":3.3},{"x":74.2,"y":6.9},{"x":74.25,"y":4.2},{"x":74.3,"y":1.5},{"x":74.35,"y":6},{"x":74.4,"y":5.1},{"x":74.45,"y":9.6},{"x":74.5,"y":3.3},{"x":74.55,"y":4.2},{"x":74.6,"y":2.4},{"x":74.65,"y":5.1},{"x":74.7,"y":0.6},{"x":74.75,"y":6.9},{"x":74.8,"y":4.2},{"x":74.85,"y":3.3},{"x":74.9,"y":5.1},{"x":74.95,"y":1.5},
{"x":75,"y":4.2},{"x":75.05,"y":6},{"x":75.1,"y":2.4},{"x":75.15,"y":5.1},{"x":75.2,"y":3.3},{"x":75.25,"y":7.8},{"x":75.3,"y":1.5},{"x":75.35,"y":5.1},{"x":75.4,"y":4.2},{"x":75.45,"y":0.6},{"x":75.5,"y":6},{"x":75.55,"y":3.3},{"x":75.6,"y":5.1},{"x":75.65,"y":2.4},{"x":75.7,"y":6.9},{"x":75.75,"y":4.2},{"x":75.8,"y":1.5},{"x":75.85,"y":5.1},{"x":75.9,"y":3.3},{"x":75.95,"y":5.1},
{"x":76,"y":2.4},{"x":76.05,"y":5.1},{"x":76.1,"y":4.2},{"x":76.15,"y":0.6},{"x":76.2,"y":6},{"x":76.25,"y":3.3},{"x":76.3,"y":5.1},{"x":76.35,"y":1.5},{"x":76.4,"y":6.9},{"x":76.45,"y":4.2},{"x":76.5,"y":3.3},{"x":76.55,"y":5.1},{"x":76.6,"y":2.4},{"x":76.65,"y":7.8},{"x":76.7,"y":4.2},{"x":76.75,"y":1.5},{"x":76.8,"y":5.1},{"x":76.85,"y":3.3},{"x":76.9,"y":6},{"x":76.95,"y":2.4},
{"x":77,"y":4.2},{"x":77.05,"y":1.5},{"x":77.1,"y":5.1},{"x":77.15,"y":3.3},{"x":77.2,"y":6.9},{"x":77.25,"y":2.4},{"x":77.3,"y":4.2},{"x":77.35,"y":0.6},{"x":77.4,"y":5.1},{"x":77.45,"y":3.3},{"x":77.5,"y":6},{"x":77.55,"y":1.5},{"x":77.6,"y":4.2},{"x":77.65,"y":2.4},{"x":77.7,"y":6.9},{"x":77.75,"y":3.3},{"x":77.8,"y":5.1},{"x":77.85,"y":1.5},{"x":77.9,"y":5.1},{"x":77.95,"y":3.3},
{"x":78,"y":2.4},{"x":78.05,"y":5.1},{"x":78.1,"y":3.3},{"x":78.15,"y":0.6},{"x":78.2,"y":6},{"x":78.25,"y":4.2},{"x":78.3,"y":1.5},{"x":78.35,"y":3.3},{"x":78.4,"y":5.1},{"x":78.45,"y":2.4},{"x":78.5,"y":4.2},{"x":78.55,"y":9.6},{"x":78.6,"y":3.3},{"x":78.65,"y":1.5},{"x":78.7,"y":6.9},{"x":78.75,"y":4.2},{"x":78.8,"y":2.4},{"x":78.85,"y":5.1},{"x":78.9,"y":0.6},{"x":78.95,"y":3.3},
{"x":79,"y":4.2},{"x":79.05,"y":2.4},{"x":79.1,"y":5.1},{"x":79.15,"y":1.5},{"x":79.2,"y":3.3},{"x":79.25,"y":6},{"x":79.3,"y":2.4},{"x":79.35,"y":4.2},{"x":79.4,"y":0.6},{"x":79.45,"y":5.1},{"x":79.5,"y":3.3},{"x":79.55,"y":1.5},{"x":79.6,"y":5.1},{"x":79.65,"y":2.4},{"x":79.7,"y":4.2},{"x":79.75,"y":6.9},{"x":79.8,"y":1.5},{"x":79.85,"y":3.3},{"x":79.9,"y":5.1},{"x":79.95,"y":2.4},
{"x":80,"y":3.3}
],
"calc":[
{"x":20,"y":8.8},{"x":21,"y":8.7},{"x":22,"y":8.6},{"x":23,"y":8.5},{"x":24,"y":8.4},{"x":25,"y":8.3},{"x":26,"y":8.5},{"x":27,"y":8.9},{"x":28,"y":9.6},{"x":29,"y":10.4},{"x":29.5,"y":10.8},{"x":30,"y":10.9},{"x":30.5,"y":10.8},{"x":31,"y":10.6},{"x":32,"y":10.3},{"x":32.5,"y":10.3},{"x":33,"y":10.8},{"x":33.5,"y":11.8},{"x":34,"y":13.3},{"x":34.5,"y":15.2},{"x":35,"y":16.6},{"x":35.5,"y":17.1},{"x":36,"y":16.6},{"x":36.5,"y":15.4},{"x":37,"y":14},{"x":37.5,"y":12.2},{"x":38,"y":10.6},{"x":38.5,"y":9.5},{"x":39,"y":8.7},{"x":39.5,"y":8.3},{"x":40,"y":8.1},{"x":40.5,"y":8.1},{"x":41,"y":8.2},{"x":41.5,"y":8.4},{"x":42,"y":8.6},{"x":42.5,"y":8.6},{"x":43,"y":8.4},{"x":43.5,"y":8},{"x":44,"y":7.6},{"x":45,"y":6.8},{"x":46,"y":6.4},{"x":47,"y":6},{"x":48,"y":5.4},{"x":49,"y":5},{"x":50,"y":4.8},{"x":51,"y":4.8},{"x":52,"y":4.9},{"x":53,"y":5.1},{"x":54,"y":5.4},{"x":55,"y":5.8},{"x":56,"y":6.2},{"x":56.5,"y":6.3},{"x":57,"y":6.3},{"x":57.5,"y":6.1},{"x":58,"y":5.9},{"x":59,"y":5.9},{"x":60,"y":6.4},{"x":61,"y":7.5},{"x":61.5,"y":8.2},{"x":62,"y":8.6},{"x":62.5,"y":8.7},{"x":63,"y":8.4},{"x":63.5,"y":7.8},{"x":64,"y":6.9},{"x":65,"y":5.4},{"x":66,"y":4.7},{"x":67,"y":4.3},{"x":68,"y":4.1},{"x":69,"y":3.9},{"x":70,"y":3.7},{"x":71,"y":3.7},{"x":72,"y":3.7},{"x":73,"y":3.8},{"x":74,"y":3.8},{"x":75,"y":3.7},{"x":76,"y":3.6},{"x":77,"y":3.5},{"x":78,"y":3.3},{"x":79,"y":3.1},{"x":80,"y":3}
],
"diff":[
{"x":20,"y":-13},{"x":20.1,"y":-18},{"x":20.2,"y":-11.5},{"x":20.3,"y":-16.5},{"x":20.4,"y":-14},{"x":20.5,"y":-19.5},{"x":20.6,"y":-12},{"x":20.7,"y":-15},{"x":20.8,"y":-17.5},{"x":20.9,"y":-10},
{"x":21,"y":-16},{"x":21.1,"y":-13.5},{"x":21.2,"y":-19},{"x":21.3,"y":-12.5},{"x":21.4,"y":-17},{"x":21.5,"y":-8},{"x":21.6,"y":-15.5},{"x":21.7,"y":-4},{"x":21.8,"y":-18},{"x":21.9,"y":-14},
{"x":22,"y":-12},{"x":22.1,"y":-17},{"x":22.2,"y":-14.5},{"x":22.3,"y":-20.5},{"x":22.4,"y":-11},{"x":22.5,"y":-16},{"x":22.6,"y":-13},{"x":22.7,"y":-18.5},{"x":22.8,"y":-9.5},{"x":22.9,"y":-15.5},
{"x":23,"y":-17.5},{"x":23.1,"y":-12.5},{"x":23.2,"y":-15},{"x":23.3,"y":-19},{"x":23.4,"y":-10.5},{"x":23.5,"y":-16.5},{"x":23.6,"y":-13.5},{"x":23.7,"y":-21},{"x":23.8,"y":-14},{"x":23.9,"y":-11},
{"x":24,"y":-15.5},{"x":24.1,"y":-18},{"x":24.2,"y":-8.5},{"x":24.3,"y":-14},{"x":24.4,"y":-20},{"x":24.5,"y":-12.5},{"x":24.6,"y":-16},{"x":24.7,"y":-13},{"x":24.8,"y":-19.5},{"x":24.9,"y":-11.5},
{"x":25,"y":-14.5},{"x":25.1,"y":-17.5},{"x":25.2,"y":-12},{"x":25.3,"y":-22},{"x":25.4,"y":-15},{"x":25.5,"y":-9},{"x":25.6,"y":-16.5},{"x":25.7,"y":-13.5},{"x":25.8,"y":-18.5},{"x":25.9,"y":-12},
{"x":26,"y":-16},{"x":26.1,"y":-11},{"x":26.2,"y":-19},{"x":26.3,"y":-14},{"x":26.4,"y":-17},{"x":26.5,"y":-7.5},{"x":26.6,"y":-15},{"x":26.7,"y":-20.5},{"x":26.8,"y":-12.5},{"x":26.9,"y":-16.5},
{"x":27,"y":-13},{"x":27.1,"y":-18},{"x":27.2,"y":-15.5},{"x":27.3,"y":-10.5},{"x":27.4,"y":-17},{"x":27.5,"y":-21.5},{"x":27.6,"y":-14},{"x":27.7,"y":-11.5},{"x":27.8,"y":-16},{"x":27.9,"y":-19},
{"x":28,"y":-12},{"x":28.1,"y":-16.5},{"x":28.2,"y":-20},{"x":28.3,"y":-13.5},{"x":28.4,"y":-9},{"x":28.5,"y":-17.5},{"x":28.6,"y":-15},{"x":28.7,"y":-22},{"x":28.8,"y":-11},{"x":28.9,"y":-14.5},
{"x":29,"y":-18},{"x":29.1,"y":-12.5},{"x":29.2,"y":-15.5},{"x":29.3,"y":-21},{"x":29.4,"y":-10},{"x":29.5,"y":-16.5},{"x":29.6,"y":-13},{"x":29.7,"y":-19.5},{"x":29.8,"y":-14.5},{"x":29.9,"y":-8},
{"x":30,"y":-16.5},{"x":30.1,"y":-20},{"x":30.2,"y":-12},{"x":30.3,"y":-15},{"x":30.4,"y":-22.5},{"x":30.5,"y":-11.5},{"x":30.6,"y":-17.5},{"x":30.7,"y":-14},{"x":30.8,"y":-19},{"x":30.9,"y":-9.5},
{"x":31,"y":-15},{"x":31.1,"y":-18.5},{"x":31.2,"y":-13},{"x":31.3,"y":-21},{"x":31.4,"y":-16},{"x":31.5,"y":-10.5},{"x":31.6,"y":-19.5},{"x":31.7,"y":-14},{"x":31.8,"y":-17},{"x":31.9,"y":-12},
{"x":32,"y":-20},{"x":32.1,"y":-13.5},{"x":32.2,"y":-16.5},{"x":32.3,"y":-9},{"x":32.4,"y":-18},{"x":32.5,"y":-22},{"x":32.6,"y":-14},{"x":32.7,"y":-17.5},{"x":32.8,"y":-11},{"x":32.9,"y":-19},
{"x":33,"y":-14},{"x":33.1,"y":-21},{"x":33.2,"y":-16},{"x":33.3,"y":-12},{"x":33.4,"y":-19.5},{"x":33.5,"y":-23},{"x":33.6,"y":-15},{"x":33.7,"y":-8.5},{"x":33.8,"y":-18},{"x":33.9,"y":-20.5},
{"x":34,"y":-13.5},{"x":34.1,"y":-22.5},{"x":34.2,"y":-17},{"x":34.3,"y":-11},{"x":34.4,"y":-20},{"x":34.5,"y":-24.5},{"x":34.6,"y":-16},{"x":34.7,"y":-9.5},{"x":34.8,"y":-21},{"x":34.9,"y":-18},
{"x":35,"y":-14},{"x":35.1,"y":-3.5},{"x":35.2,"y":-19},{"x":35.3,"y":-23.5},{"x":35.4,"y":-12},{"x":35.5,"y":-17.5},{"x":35.6,"y":-25},{"x":35.7,"y":-15},{"x":35.8,"y":-20},{"x":35.9,"y":-10},
{"x":36,"y":-18.5},{"x":36.1,"y":-24},{"x":36.2,"y":-13},{"x":36.3,"y":-21},{"x":36.4,"y":-16.5},{"x":36.5,"y":-22.5},{"x":36.6,"y":-11.5},{"x":36.7,"y":-19.5},{"x":36.8,"y":-25.5},{"x":36.9,"y":-14.5},
{"x":37,"y":-17},{"x":37.1,"y":-21.5},{"x":37.2,"y":-12.5},{"x":37.3,"y":-19},{"x":37.4,"y":-23},{"x":37.5,"y":-15},{"x":37.6,"y":-9},{"x":37.7,"y":-20},{"x":37.8,"y":-16},{"x":37.9,"y":-22},
{"x":38,"y":-4.5},{"x":38.1,"y":-18},{"x":38.2,"y":-13},{"x":38.3,"y":-20.5},{"x":38.4,"y":-15.5},{"x":38.5,"y":-11},{"x":38.6,"y":-19},{"x":38.7,"y":-14},{"x":38.8,"y":-21},{"x":38.9,"y":-12},
{"x":39,"y":-16.5},{"x":39.1,"y":-10},{"x":39.2,"y":-18.5},{"x":39.3,"y":-13.5},{"x":39.4,"y":-6},{"x":39.5,"y":-17},{"x":39.6,"y":-14.5},{"x":39.7,"y":-20},{"x":39.8,"y":-12},{"x":39.9,"y":-16},
{"x":40,"y":-15},{"x":40.1,"y":-17.5},{"x":40.2,"y":-13},{"x":40.3,"y":-19},{"x":40.4,"y":-14.5},{"x":40.5,"y":-16.5},{"x":40.6,"y":-12},{"x":40.7,"y":-18},{"x":40.8,"y":-15.5},{"x":40.9,"y":-20},
{"x":41,"y":-14},{"x":41.1,"y":-3.5},{"x":41.2,"y":-16.5},{"x":41.3,"y":-12.5},{"x":41.4,"y":-18.5},{"x":41.5,"y":-15},{"x":41.6,"y":-20.5},{"x":41.7,"y":-13},{"x":41.8,"y":-9},{"x":41.9,"y":-17},
{"x":42,"y":-15.5},{"x":42.1,"y":-18.5},{"x":42.2,"y":-12},{"x":42.3,"y":-16},{"x":42.4,"y":-21},{"x":42.5,"y":-13.5},{"x":42.6,"y":-17.5},{"x":42.7,"y":-10},{"x":42.8,"y":-19},{"x":42.9,"y":-14.5},
{"x":43,"y":-16.5},{"x":43.1,"y":-13},{"x":43.2,"y":-20},{"x":43.3,"y":-15},{"x":43.4,"y":-8.5},{"x":43.5,"y":-17.5},{"x":43.6,"y":-22},{"x":43.7,"y":-14},{"x":43.8,"y":-18},{"x":43.9,"y":-12},
{"x":44,"y":-15},{"x":44.1,"y":-19.5},{"x":44.2,"y":-11.5},{"x":44.3,"y":-17},{"x":44.4,"y":-14},{"x":44.5,"y":-21.5},{"x":44.6,"y":-13},{"x":44.7,"y":-18.5},{"x":44.8,"y":-10},{"x":44.9,"y":-16},
{"x":45,"y":-19},{"x":45.1,"y":-13.5},{"x":45.2,"y":-16.5},{"x":45.3,"y":-22},{"x":45.4,"y":-12},{"x":45.5,"y":-17},{"x":45.6,"y":-9.5},{"x":45.7,"y":-15.5},{"x":45.8,"y":-20},{"x":45.9,"y":-14},
{"x":46,"y":-17.5},{"x":46.1,"y":-11},{"x":46.2,"y":-15},{"x":46.3,"y":-20.5},{"x":46.4,"y":-13.5},{"x":46.5,"y":-18},{"x":46.6,"y":-7.5},{"x":46.7,"y":-16},{"x":46.8,"y":-21},{"x":46.9,"y":-14.5},
{"x":47,"y":-16},{"x":47.1,"y":-19.5},{"x":47.2,"y":-12.5},{"x":47.3,"y":-17},{"x":47.4,"y":-10},{"x":47.5,"y":-15.5},{"x":47.6,"y":-20},{"x":47.7,"y":-13},{"x":47.8,"y":-18.5},{"x":47.9,"y":-15},
{"x":48,"y":-13.5},{"x":48.1,"y":-17.5},{"x":48.2,"y":-20.5},{"x":48.3,"y":-14.5},{"x":48.4,"y":-11.5},{"x":48.5,"y":-18},{"x":48.6,"y":-15.5},{"x":48.7,"y":-21.5},{"x":48.8,"y":-12.5},{"x":48.9,"y":-16.5},
{"x":49,"y":-19},{"x":49.1,"y":-14},{"x":49.2,"y":-16.5},{"x":49.3,"y":-11},{"x":49.4,"y":-18.5},{"x":49.5,"y":-15},{"x":49.6,"y":-20},{"x":49.7,"y":-13.5},{"x":49.8,"y":-17},{"x":49.9,"y":-9},
{"x":50,"y":-16},{"x":50.1,"y":-13},{"x":50.2,"y":-18.5},{"x":50.3,"y":-15},{"x":50.4,"y":-21},{"x":50.5,"y":-12.5},{"x":50.6,"y":-17.5},{"x":50.7,"y":-8.5},{"x":50.8,"y":-19.5},{"x":50.9,"y":-14},
{"x":51,"y":-15.5},{"x":51.1,"y":-20},{"x":51.2,"y":-12},{"x":51.3,"y":-17},{"x":51.4,"y":-14},{"x":51.5,"y":-19},{"x":51.6,"y":-16},{"x":51.7,"y":-10.5},{"x":51.8,"y":-18},{"x":51.9,"y":-13},
{"x":52,"y":-17},{"x":52.1,"y":-14.5},{"x":52.2,"y":-21},{"x":52.3,"y":-12.5},{"x":52.4,"y":-16.5},{"x":52.5,"y":-19.5},{"x":52.6,"y":-11},{"x":52.7,"y":-15.5},{"x":52.8,"y":-18},{"x":52.9,"y":-13.5},
{"x":53,"y":-19},{"x":53.1,"y":-15},{"x":53.2,"y":-12},{"x":53.3,"y":-17.5},{"x":53.4,"y":-20.5},{"x":53.5,"y":-9.5},{"x":53.6,"y":-16},{"x":53.7,"y":-14},{"x":53.8,"y":-18.5},{"x":53.9,"y":-12.5},
{"x":54,"y":-16},{"x":54.1,"y":-20},{"x":54.2,"y":-13.5},{"x":54.3,"y":-17},{"x":54.4,"y":-10.5},{"x":54.5,"y":-18.5},{"x":54.6,"y":-15},{"x":54.7,"y":-21.5},{"x":54.8,"y":-12},{"x":54.9,"y":-16.5},
{"x":55,"y":-14},{"x":55.1,"y":-18},{"x":55.2,"y":-16},{"x":55.3,"y":-11.5},{"x":55.4,"y":-19.5},{"x":55.5,"y":-15},{"x":55.6,"y":-17.5},{"x":55.7,"y":-9},{"x":55.8,"y":-20.5},{"x":55.9,"y":-13.5},
{"x":56,"y":-17},{"x":56.1,"y":-15},{"x":56.2,"y":-20},{"x":56.3,"y":-12.5},{"x":56.4,"y":-16.5},{"x":56.5,"y":-18.5},{"x":56.6,"y":-11},{"x":56.7,"y":-21},{"x":56.8,"y":-14.5},{"x":56.9,"y":-17.5},
{"x":57,"y":-13},{"x":57.1,"y":-9},{"x":57.2,"y":-18},{"x":57.3,"y":-15.5},{"x":57.4,"y":-20},{"x":57.5,"y":-12},{"x":57.6,"y":-17},{"x":57.7,"y":-14},{"x":57.8,"y":-19},{"x":57.9,"y":-16},
{"x":58,"y":-18.5},{"x":58.1,"y":-14},{"x":58.2,"y":-21},{"x":58.3,"y":-16},{"x":58.4,"y":-12.5},{"x":58.5,"y":-19.5},{"x":58.6,"y":-15},{"x":58.7,"y":-22},{"x":58.8,"y":-13.5},{"x":58.9,"y":-17.5},
{"x":59,"y":-16},{"x":59.1,"y":-20.5},{"x":59.2,"y":-13},{"x":59.3,"y":-18},{"x":59.4,"y":-11.5},{"x":59.5,"y":-17},{"x":59.6,"y":-21.5},{"x":59.7,"y":-14.5},{"x":59.8,"y":-19},{"x":59.9,"y":-15.5},
{"x":60,"y":-19},{"x":60.1,"y":-13.5},{"x":60.2,"y":-17.5},{"x":60.3,"y":-22},{"x":60.4,"y":-15},{"x":60.5,"y":-20},{"x":60.6,"y":-12},{"x":60.7,"y":-18.5},{"x":60.8,"y":-21},{"x":60.9,"y":-16},
{"x":61,"y":-14},{"x":61.1,"y":-22.5},{"x":61.2,"y":-17},{"x":61.3,"y":-19.5},{"x":61.4,"y":-13},{"x":61.5,"y":-21},{"x":61.6,"y":-16.5},{"x":61.7,"y":-20},{"x":61.8,"y":-11.5},{"x":61.9,"y":-18},
{"x":62,"y":-21.5},{"x":62.1,"y":-15},{"x":62.2,"y":-19},{"x":62.3,"y":-12.5},{"x":62.4,"y":-22},{"x":62.5,"y":-17},{"x":62.6,"y":-20.5},{"x":62.7,"y":-14},{"x":62.8,"y":-18},{"x":62.9,"y":-9},
{"x":63,"y":-16.5},{"x":63.1,"y":-20},{"x":63.2,"y":-13},{"x":63.3,"y":-18.5},{"x":63.4,"y":-21.5},{"x":63.5,"y":-15},{"x":63.6,"y":-19},{"x":63.7,"y":-12},{"x":63.8,"y":-17.5},{"x":63.9,"y":-20.5},
{"x":64,"y":-15},{"x":64.1,"y":-18},{"x":64.2,"y":-21},{"x":64.3,"y":-13.5},{"x":64.4,"y":-17},{"x":64.5,"y":-19.5},{"x":64.6,"y":-14},{"x":64.7,"y":-16.5},{"x":64.8,"y":-11},{"x":64.9,"y":-19},
{"x":65,"y":-7.5},{"x":65.1,"y":-17},{"x":65.2,"y":-14.5},{"x":65.3,"y":-19},{"x":65.4,"y":-12},{"x":65.5,"y":-16},{"x":65.6,"y":-18.5},{"x":65.7,"y":-13},{"x":65.8,"y":-20},{"x":65.9,"y":-15.5},
{"x":66,"y":-17},{"x":66.1,"y":-13.5},{"x":66.2,"y":-16},{"x":66.3,"y":-18.5},{"x":66.4,"y":-10.5},{"x":66.5,"y":-15},{"x":66.6,"y":-17.5},{"x":66.7,"y":-14},{"x":66.8,"y":-19},{"x":66.9,"y":-12.5},
{"x":67,"y":-15.5},{"x":67.1,"y":-18},{"x":67.2,"y":-13},{"x":67.3,"y":-16.5},{"x":67.4,"y":-11},{"x":67.5,"y":-17},{"x":67.6,"y":-14.5},{"x":67.7,"y":-19},{"x":67.8,"y":-15},{"x":67.9,"y":-12.5},
{"x":68,"y":-17.5},{"x":68.1,"y":-14},{"x":68.2,"y":-16},{"x":68.3,"y":-10.5},{"x":68.4,"y":-18.5},{"x":68.5,"y":-15},{"x":68.6,"y":-13},{"x":68.7,"y":-17},{"x":68.8,"y":-19},{"x":68.9,"y":-14.5},
{"x":69,"y":-16},{"x":69.1,"y":-11.5},{"x":69.2,"y":-17.5},{"x":69.3,"y":-14},{"x":69.4,"y":-18.5},{"x":69.5,"y":-15.5},{"x":69.6,"y":-12.5},{"x":69.7,"y":-17},{"x":69.8,"y":-15},{"x":69.9,"y":-19},
{"x":70,"y":-13.5},{"x":70.1,"y":-16.5},{"x":70.2,"y":-18},{"x":70.3,"y":-11},{"x":70.4,"y":-15.5},{"x":70.5,"y":-17},{"x":70.6,"y":-14},{"x":70.7,"y":-18.5},{"x":70.8,"y":-12},{"x":70.9,"y":-16},
{"x":71,"y":-17},{"x":71.1,"y":-14.5},{"x":71.2,"y":-10.5},{"x":71.3,"y":-16},{"x":71.4,"y":-18},{"x":71.5,"y":-13.5},{"x":71.6,"y":-17.5},{"x":71.7,"y":-15},{"x":71.8,"y":-12},{"x":71.9,"y":-18.5},
{"x":72,"y":-15},{"x":72.1,"y":-17.5},{"x":72.2,"y":-13},{"x":72.3,"y":-16.5},{"x":72.4,"y":-19},{"x":72.5,"y":-11},{"x":72.6,"y":-15.5},{"x":72.7,"y":-17},{"x":72.8,"y":-14},{"x":72.9,"y":-18},
{"x":73,"y":-16.5},{"x":73.1,"y":-12.5},{"x":73.2,"y":-18},{"x":73.3,"y":-15},{"x":73.4,"y":-14},{"x":73.5,"y":-17.5},{"x":73.6,"y":-10.5},{"x":73.7,"y":-16},{"x":73.8,"y":-18.5},{"x":73.9,"y":-13.5},
{"x":74,"y":-17.5},{"x":74.1,"y":-15},{"x":74.2,"y":-12},{"x":74.3,"y":-16.5},{"x":74.4,"y":-19},{"x":74.5,"y":-14},{"x":74.6,"y":-17},{"x":74.7,"y":-11.5},{"x":74.8,"y":-15.5},{"x":74.9,"y":-18},
{"x":75,"y":-14.5},{"x":75.1,"y":-17},{"x":75.2,"y":-16},{"x":75.3,"y":-12.5},{"x":75.4,"y":-18.5},{"x":75.5,"y":-15},{"x":75.6,"y":-13.5},{"x":75.7,"y":-17.5},{"x":75.8,"y":-10.5},{"x":75.9,"y":-16},
{"x":76,"y":-18},{"x":76.1,"y":-13},{"x":76.2,"y":-16.5},{"x":76.3,"y":-15},{"x":76.4,"y":-11.5},{"x":76.5,"y":-17.5},{"x":76.6,"y":-14},{"x":76.7,"y":-18.5},{"x":76.8,"y":-15.5},{"x":76.9,"y":-12.5},
{"x":77,"y":-16},{"x":77.1,"y":-18.5},{"x":77.2,"y":-13.5},{"x":77.3,"y":-17},{"x":77.4,"y":-10},{"x":77.5,"y":-15.5},{"x":77.6,"y":-17.5},{"x":77.7,"y":-14},{"x":77.8,"y":-16.5},{"x":77.9,"y":-19},
{"x":78,"y":-13},{"x":78.1,"y":-16},{"x":78.2,"y":-18},{"x":78.3,"y":-12},{"x":78.4,"y":-15},{"x":78.5,"y":-17.5},{"x":78.6,"y":-14.5},{"x":78.7,"y":-11},{"x":78.8,"y":-16.5},{"x":78.9,"y":-18},
{"x":79,"y":-15.5},{"x":79.1,"y":-13},{"x":79.2,"y":-17},{"x":79.3,"y":-16},{"x":79.4,"y":-12},{"x":79.5,"y":-18.5},{"x":79.6,"y":-14.5},{"x":79.7,"y":-16.5},{"x":79.8,"y":-11.5},{"x":79.9,"y":-15},
{"x":80,"y":-16}
],
"bragg":[
{"x":30.1},{"x":35.5},{"x":37.05},{"x":43.0},{"x":47.05},{"x":53.25},{"x":56.8},{"x":62.4},{"x":65.45},{"x":65.65},{"x":66.5},{"x":66.7},{"x":70.6},{"x":70.8},{"x":73.6},{"x":73.8},{"x":74.6},{"x":74.8},{"x":78.65},{"x":78.9}
],
"hkl":[
{"x":29.7,"y":26,"t":"(220)"},{"x":35.6,"y":34.3,"t":"(311)"},{"x":37.6,"y":26,"t":"(222)"},{"x":42.6,"y":22,"t":"(400)"},{"x":46.9,"y":20,"t":"(331)"},{"x":53.0,"y":16.5,"t":"(422)"},{"x":56.6,"y":17.2,"t":"(333)"},{"x":57.5,"y":24.2,"t":"(511)"},{"x":62.5,"y":19,"t":"(440)"},{"x":65.6,"y":14.8,"t":"(531)"},{"x":67.7,"y":16.6,"t":"(442)"},{"x":70.7,"y":14.8,"t":"(620)"},{"x":73.6,"y":13.9,"t":"(533)"},{"x":75.6,"y":16,"t":"(622)"},{"x":78.0,"y":13.8,"t":"(444)"}
],
"notes":[
{"g":"title","x":50.7,"y":51.9,"t":"CF@CMC"},
{"g":"group","x":59.9,"y":45.4,"t":"Fd-3m"},
{"g":"red","x":59.9,"y":39.9,"t":"a = 8.272(3) Å"},
{"g":"red","x":59.9,"y":35.4,"t":"D"},
{"g":"sub","x":61.63,"y":33.5,"t":"XRD"},
{"g":"red","x":65.27,"y":35.4,"t":"= 2.0(1) nm"}
]
},
"layer":[
{"data":{"name":"obs"},
 "mark":{"type":"square","size":13,"color":"#ff0000","opacity":1},
 "encoding":{
  "x":{"field":"x","type":"quantitative","scale":{"domain":[20,80],"nice":false,"zero":false},
   "axis":{"orient":"bottom","values":[20,30,40,50,60,70,80],"tickSize":-8,"tickWidth":1.5,"labelPadding":24,"title":"2θ (°)","titleFontSize":19,"titleX":370,"titleY":49,"titleAlign":"center","titleBaseline":"middle","titleAngle":0}},
  "y":{"field":"y","type":"quantitative","scale":{"domain":[-30,60],"nice":false,"zero":false},
   "axis":{"orient":"left","values":[-30,-20,-10,0,10,20,30,40,50,60],"labelExpr":"datum.value >= 0 ? datum.label : ''","tickSize":-8,"tickWidth":1.5,"labelPadding":30,"title":"Intensity (arb. units)","titleFontSize":16,"titleAngle":270,"titleX":-94,"titleY":235,"titleAlign":"center","titleBaseline":"middle"}}
 }},
{"data":{"name":"calc"},
 "mark":{"type":"line","color":"black","strokeWidth":2,"interpolate":"monotone"},
 "encoding":{
  "x":{"field":"x","type":"quantitative","axis":{"orient":"top","values":[20,30,40,50,60,70,80],"labels":false,"tickSize":-8,"tickWidth":1.5,"title":null}},
  "y":{"field":"y","type":"quantitative","axis":{"orient":"right","values":[-30,-20,-10,0,10,20,30,40,50,60],"labels":false,"tickSize":-8,"tickWidth":1.5,"title":null}}
 }},
{"data":{"name":"diff"},
 "mark":{"type":"line","color":"#0000ff","strokeWidth":1.3,"opacity":0.85},
 "encoding":{
  "x":{"field":"x","type":"quantitative","axis":{"orient":"bottom","values":[22,24,26,28,32,34,36,38,42,44,46,48,52,54,56,58,62,64,66,68,72,74,76,78],"labels":false,"tickSize":-4.5,"tickWidth":1,"title":null}},
  "y":{"field":"y","type":"quantitative","axis":{"orient":"left","values":[-28,-26,-24,-22,-18,-16,-14,-12,-8,-6,-4,-2,2,4,6,8,12,14,16,18,22,24,26,28,32,34,36,38,42,44,46,48,52,54,56,58],"labels":false,"tickSize":-4.5,"tickWidth":1,"title":null}}
 }},
{"data":{"name":"bragg"},
 "mark":{"type":"rule","color":"#0000ff","strokeWidth":1.8},
 "encoding":{
  "x":{"field":"x","type":"quantitative","axis":{"orient":"top","values":[22,24,26,28,32,34,36,38,42,44,46,48,52,54,56,58,62,64,66,68,72,74,76,78],"labels":false,"tickSize":-4.5,"tickWidth":1,"title":null}},
  "y":{"datum":0.8,"type":"quantitative","axis":null},
  "y2":{"datum":-2.2}
 }},
{"data":{"name":"hkl"},
 "mark":{"type":"text","angle":270,"font":"Liberation Serif","fontWeight":"bold","fontSize":16,"align":"center","baseline":"middle","color":"black"},
 "encoding":{
  "x":{"field":"x","type":"quantitative","axis":null},
  "y":{"field":"y","type":"quantitative","axis":{"orient":"right","values":[-28,-26,-24,-22,-18,-16,-14,-12,-8,-6,-4,-2,2,4,6,8,12,14,16,18,22,24,26,28,32,34,36,38,42,44,46,48,52,54,56,58],"labels":false,"tickSize":-4.5,"tickWidth":1,"title":null}},
  "text":{"field":"t"}
 }},
{"data":{"name":"notes"},
 "transform":[{"filter":"datum.g === 'title'"}],
 "mark":{"type":"text","font":"Liberation Serif","fontWeight":"bold","fontSize":21,"align":"center","baseline":"middle","color":"black"},
 "encoding":{"x":{"field":"x","type":"quantitative","axis":null},"y":{"field":"y","type":"quantitative","axis":null},"text":{"field":"t"}}},
{"data":{"name":"notes"},
 "transform":[{"filter":"datum.g === 'group'"}],
 "mark":{"type":"text","font":"Liberation Serif","fontWeight":"bold","fontStyle":"italic","fontSize":20,"align":"left","baseline":"middle","color":"black"},
 "encoding":{"x":{"field":"x","type":"quantitative","axis":null},"y":{"field":"y","type":"quantitative","axis":null},"text":{"field":"t"}}},
{"data":{"name":"notes"},
 "transform":[{"filter":"datum.g === 'red'"}],
 "mark":{"type":"text","font":"Liberation Serif","fontWeight":"bold","fontStyle":"italic","fontSize":20,"align":"left","baseline":"middle","color":"#ff0000"},
 "encoding":{"x":{"field":"x","type":"quantitative","axis":null},"y":{"field":"y","type":"quantitative","axis":null},"text":{"field":"t"}}},
{"data":{"name":"notes"},
 "transform":[{"filter":"datum.g === 'sub'"}],
 "mark":{"type":"text","font":"Liberation Serif","fontWeight":"bold","fontStyle":"italic","fontSize":14,"align":"left","baseline":"middle","color":"#ff0000"},
 "encoding":{"x":{"field":"x","type":"quantitative","axis":null},"y":{"field":"y","type":"quantitative","axis":null},"text":{"field":"t"}}}
]
}
